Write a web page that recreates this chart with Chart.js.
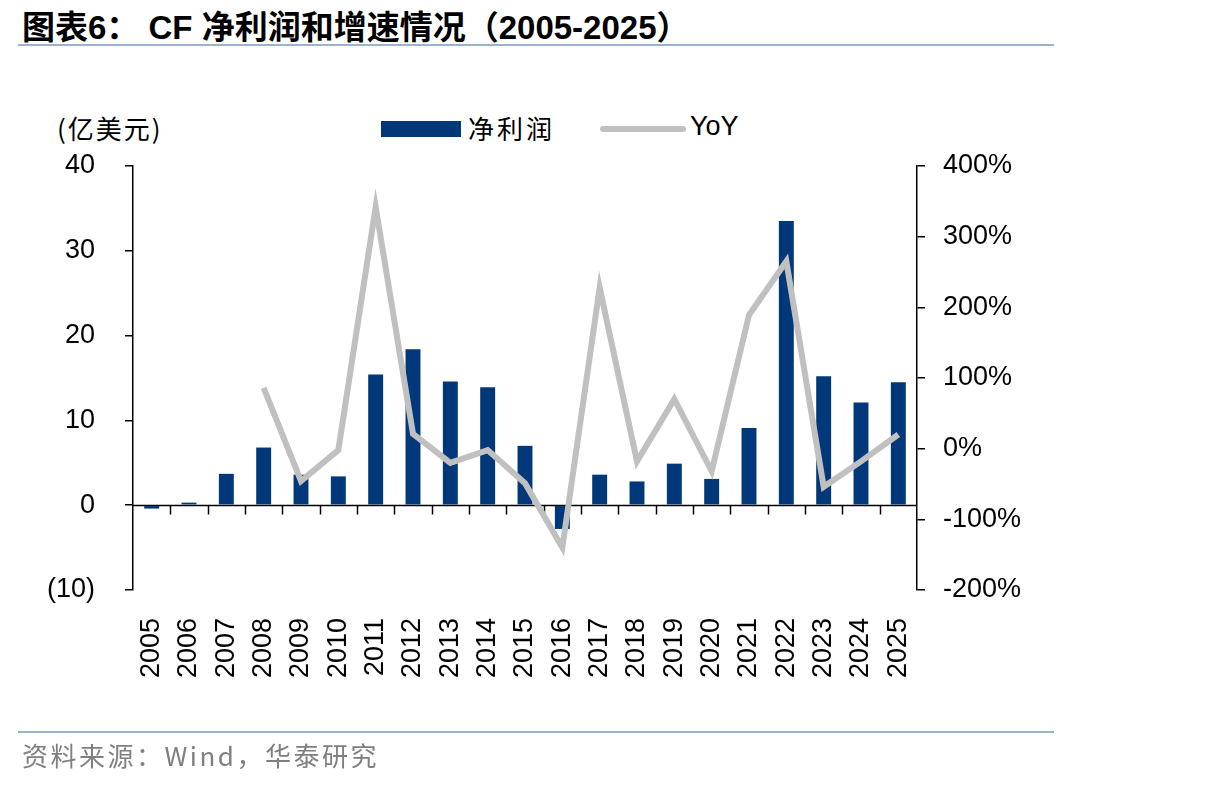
<!DOCTYPE html>
<html>
<head>
<meta charset="utf-8">
<script src="https://cdn.jsdelivr.net/npm/chart.js@4.4.1/dist/chart.umd.min.js"></script>
<style>
  html, body { margin: 0; padding: 0; background: #fff; }
  body { width: 1206px; height: 786px; position: relative; overflow: hidden; font-family: "Liberation Sans", Arial, sans-serif; }
  #wrap { position: absolute; left: 0; top: 0; width: 1206px; height: 786px; }
  .title { position: absolute; left: 22px; top: 1px; font: bold 33px "Liberation Sans", "Noto Sans CJK SC", sans-serif; color: #000; white-space: nowrap; }
  .rule { position: absolute; left: 18px; width: 1036px; height: 2px; background: #9cb4cb; }
  .unit { position: absolute; left: 57px; top: 109px; font: 26px "Noto Sans CJK SC", sans-serif; letter-spacing: 2px; color: #000; }
  .legend { position: absolute; top: 109px; font: 26px "Noto Sans CJK SC", sans-serif; letter-spacing: 3px; color: #000; white-space: nowrap; }
  .swatch { position: absolute; }
  .source { position: absolute; left: 22px; top: 736px; font: 26px "Noto Sans CJK SC", sans-serif; letter-spacing: 2.5px; color: #7f7f7f; white-space: nowrap; }
</style>
</head>
<body>
<div class="title">图表6： CF 净利润和增速情况（2005-2025）</div>
<div class="rule" style="top:44px"></div>
<div class="unit">(亿美元)</div>
<div class="swatch" style="left:381px; top:121px; width:80px; height:16px; background:#00387a"></div>
<div class="legend" style="left:468px">净利润</div>
<div class="swatch" style="left:600px; top:126px; width:86px; height:6px; border-radius:3px; background:#c0c0c0"></div>
<div class="legend" style="left:690px; top:111px; letter-spacing:0; font-family:'Liberation Sans', Arial, sans-serif; font-size:27px">YoY</div>
<div id="wrap"><canvas id="chart" width="1206" height="786"></canvas></div>
<div class="rule" style="top:731px"></div>
<div class="source">资料来源：Wind，华泰研究</div>
<script>
const years = ["2005", "2006", "2007", "2008", "2009", "2010", "2011", "2012", "2013", "2014", "2015",
  "2016", "2017", "2018", "2019", "2020", "2021", "2022", "2023", "2024", "2025"];
// 净利润 (亿美元)
const netProfit = [-0.4, 0.3, 3.7, 6.8, 3.6, 3.4, 15.4, 18.4, 14.6, 13.9, 7.0,
  -2.8, 3.6, 2.8, 4.9, 3.1, 9.1, 33.5, 15.2, 12.1, 14.5];
// YoY (%)
const yoy = [null, null, null, 86, -46, -2, 342, 21, -20, -2, -49,
  -140, 228, -18, 70, -32, 189, 265, -54, -18, 20];
const leftTicks = [-10, 0, 10, 20, 30, 40];
const rightTicks = [-200, -100, 0, 100, 200, 300, 400];

const tickFont = { family: "Liberation Sans", size: 27 };

// zero line with downward tick marks between categories
const zeroAxis = {
  id: "zeroAxis",
  beforeDatasetsDraw(chart) {
    const { ctx, chartArea, scales } = chart;
    const y0 = Math.round(scales.y.getPixelForValue(0)) + 0.5;
    const step = (chartArea.right - chartArea.left) / years.length;
    ctx.save();
    ctx.strokeStyle = "#000";
    ctx.lineWidth = 1.5;
    ctx.beginPath();
    ctx.moveTo(chartArea.left, y0);
    ctx.lineTo(chartArea.right, y0);
    for (let i = 1; i < years.length; i++) {
      const x = Math.round(chartArea.left + step * i) + 0.5;
      ctx.moveTo(x, y0);
      ctx.lineTo(x, y0 + 9);
    }
    ctx.stroke();
    ctx.restore();
  },
};

new Chart(document.getElementById("chart"), {
  data: {
    labels: years,
    datasets: [
      {
        type: "line",
        label: "YoY",
        data: yoy,
        yAxisID: "y2",
        borderColor: "#c0c0c0",
        borderWidth: 6,
        pointRadius: 0,
        tension: 0,
        spanGaps: false,
        order: 0,
      },
      {
        type: "bar",
        label: "净利润",
        data: netProfit,
        yAxisID: "y",
        backgroundColor: "#00387a",
        barPercentage: 0.4,
        categoryPercentage: 1,
        order: 1,
      },
    ],
  },
  options: {
    responsive: false,
    animation: false,
    layout: { padding: { top: 166, left: 0, right: 0, bottom: 0 } },
    plugins: {
      legend: { display: false },
      tooltip: { enabled: false },
    },
    scales: {
      x: {
        offset: true,
        grid: { display: false },
        border: { display: false },
        ticks: { color: "#000", font: tickFont, maxRotation: 90, minRotation: 90, padding: 20 },
        afterFit(s) { s.height = 196; },
      },
      y: {
        position: "left",
        min: -10,
        max: 40,
        afterBuildTicks(s) { s.ticks = leftTicks.map((v) => ({ value: v })); },
        grid: { drawOnChartArea: false, color: "#000", tickLength: 8, lineWidth: 1.5 },
        border: { display: true, color: "#000", width: 1.5 },
        ticks: {
          color: "#000",
          font: tickFont,
          padding: 30,
          callback: (v) => (v < 0 ? "(" + Math.abs(v) + ")" : String(v)),
        },
        afterFit(s) { s.width = 133; },
      },
      y2: {
        position: "right",
        min: -200,
        max: 400,
        afterBuildTicks(s) { s.ticks = rightTicks.map((v) => ({ value: v })); },
        grid: { drawOnChartArea: false, color: "#000", tickLength: 8, lineWidth: 1.5 },
        border: { display: true, color: "#000", width: 1.5 },
        ticks: { color: "#000", font: tickFont, padding: 18, callback: (v) => v + "%" },
        afterFit(s) { s.width = 289; },
      },
    },
  },
  plugins: [zeroAxis],
});
</script>
</body>
</html>
